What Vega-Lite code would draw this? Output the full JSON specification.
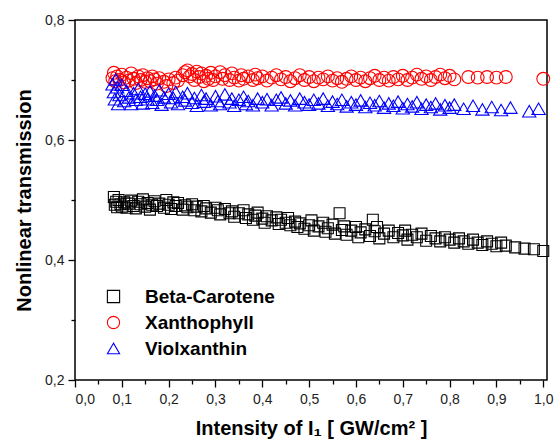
{
  "$schema": "https://vega.github.io/schema/vega-lite/v6.json",
  "width": 472,
  "height": 360,
  "autosize": "none",
  "padding": {"left": 75, "top": 20, "right": 8, "bottom": 65},
  "background": "white",
  "config": {
    "view": {"stroke": "black", "strokeWidth": 1.5},
    "font": "Liberation Sans",
    "legend": {
      "orient": "none", "legendX": 29, "legendY": 267,
      "labelFont": "Liberation Sans", "labelFontSize": 19, "labelFontWeight": "bold", "labelColor": "black",
      "symbolSize": 150, "symbolStrokeWidth": 1.1, "rowPadding": 6, "labelOffset": 22, "symbolFillColor": "transparent"
    }
  },
  "datasets": {
    "pts": [
      {"s":"Beta-Carotene","x":0.083,"y":0.505},{"s":"Beta-Carotene","x":0.085,"y":0.492},{"s":"Beta-Carotene","x":0.088,"y":0.497},{"s":"Beta-Carotene","x":0.09,"y":0.488},{"s":"Beta-Carotene","x":0.093,"y":0.5},{"s":"Beta-Carotene","x":0.097,"y":0.493},{"s":"Beta-Carotene","x":0.1,"y":0.489},{"s":"Beta-Carotene","x":0.105,"y":0.496},{"s":"Beta-Carotene","x":0.11,"y":0.487},{"s":"Beta-Carotene","x":0.115,"y":0.494},{"s":"Beta-Carotene","x":0.12,"y":0.499},{"s":"Beta-Carotene","x":0.125,"y":0.49},{"s":"Beta-Carotene","x":0.13,"y":0.486},{"s":"Beta-Carotene","x":0.135,"y":0.497},{"s":"Beta-Carotene","x":0.14,"y":0.493},{"s":"Beta-Carotene","x":0.145,"y":0.501},{"s":"Beta-Carotene","x":0.15,"y":0.489},{"s":"Beta-Carotene","x":0.155,"y":0.495},{"s":"Beta-Carotene","x":0.16,"y":0.484},{"s":"Beta-Carotene","x":0.165,"y":0.492},{"s":"Beta-Carotene","x":0.17,"y":0.498},{"s":"Beta-Carotene","x":0.175,"y":0.49},{"s":"Beta-Carotene","x":0.18,"y":0.494},{"s":"Beta-Carotene","x":0.19,"y":0.487},{"s":"Beta-Carotene","x":0.195,"y":0.5},{"s":"Beta-Carotene","x":0.2,"y":0.492},{"s":"Beta-Carotene","x":0.205,"y":0.485},{"s":"Beta-Carotene","x":0.21,"y":0.496},{"s":"Beta-Carotene","x":0.215,"y":0.49},{"s":"Beta-Carotene","x":0.22,"y":0.495},{"s":"Beta-Carotene","x":0.23,"y":0.484},{"s":"Beta-Carotene","x":0.235,"y":0.491},{"s":"Beta-Carotene","x":0.24,"y":0.488},{"s":"Beta-Carotene","x":0.25,"y":0.493},{"s":"Beta-Carotene","x":0.255,"y":0.483},{"s":"Beta-Carotene","x":0.26,"y":0.489},{"s":"Beta-Carotene","x":0.27,"y":0.481},{"s":"Beta-Carotene","x":0.275,"y":0.49},{"s":"Beta-Carotene","x":0.28,"y":0.486},{"s":"Beta-Carotene","x":0.29,"y":0.479},{"s":"Beta-Carotene","x":0.3,"y":0.487},{"s":"Beta-Carotene","x":0.305,"y":0.483},{"s":"Beta-Carotene","x":0.31,"y":0.476},{"s":"Beta-Carotene","x":0.32,"y":0.485},{"s":"Beta-Carotene","x":0.33,"y":0.478},{"s":"Beta-Carotene","x":0.335,"y":0.481},{"s":"Beta-Carotene","x":0.34,"y":0.472},{"s":"Beta-Carotene","x":0.35,"y":0.478},{"s":"Beta-Carotene","x":0.36,"y":0.483},{"s":"Beta-Carotene","x":0.365,"y":0.47},{"s":"Beta-Carotene","x":0.37,"y":0.476},{"s":"Beta-Carotene","x":0.38,"y":0.467},{"s":"Beta-Carotene","x":0.385,"y":0.474},{"s":"Beta-Carotene","x":0.39,"y":0.479},{"s":"Beta-Carotene","x":0.4,"y":0.469},{"s":"Beta-Carotene","x":0.405,"y":0.462},{"s":"Beta-Carotene","x":0.41,"y":0.473},{"s":"Beta-Carotene","x":0.42,"y":0.466},{"s":"Beta-Carotene","x":0.43,"y":0.471},{"s":"Beta-Carotene","x":0.435,"y":0.46},{"s":"Beta-Carotene","x":0.44,"y":0.467},{"s":"Beta-Carotene","x":0.45,"y":0.462},{"s":"Beta-Carotene","x":0.455,"y":0.47},{"s":"Beta-Carotene","x":0.46,"y":0.458},{"s":"Beta-Carotene","x":0.47,"y":0.464},{"s":"Beta-Carotene","x":0.475,"y":0.455},{"s":"Beta-Carotene","x":0.48,"y":0.461},{"s":"Beta-Carotene","x":0.49,"y":0.452},{"s":"Beta-Carotene","x":0.5,"y":0.458},{"s":"Beta-Carotene","x":0.505,"y":0.466},{"s":"Beta-Carotene","x":0.51,"y":0.449},{"s":"Beta-Carotene","x":0.52,"y":0.456},{"s":"Beta-Carotene","x":0.53,"y":0.462},{"s":"Beta-Carotene","x":0.535,"y":0.447},{"s":"Beta-Carotene","x":0.54,"y":0.453},{"s":"Beta-Carotene","x":0.55,"y":0.459},{"s":"Beta-Carotene","x":0.555,"y":0.444},{"s":"Beta-Carotene","x":0.565,"y":0.478},{"s":"Beta-Carotene","x":0.57,"y":0.45},{"s":"Beta-Carotene","x":0.575,"y":0.456},{"s":"Beta-Carotene","x":0.58,"y":0.442},{"s":"Beta-Carotene","x":0.59,"y":0.449},{"s":"Beta-Carotene","x":0.6,"y":0.455},{"s":"Beta-Carotene","x":0.605,"y":0.438},{"s":"Beta-Carotene","x":0.61,"y":0.446},{"s":"Beta-Carotene","x":0.62,"y":0.451},{"s":"Beta-Carotene","x":0.63,"y":0.44},{"s":"Beta-Carotene","x":0.636,"y":0.467},{"s":"Beta-Carotene","x":0.64,"y":0.448},{"s":"Beta-Carotene","x":0.645,"y":0.455},{"s":"Beta-Carotene","x":0.65,"y":0.436},{"s":"Beta-Carotene","x":0.66,"y":0.444},{"s":"Beta-Carotene","x":0.67,"y":0.449},{"s":"Beta-Carotene","x":0.68,"y":0.438},{"s":"Beta-Carotene","x":0.69,"y":0.445},{"s":"Beta-Carotene","x":0.7,"y":0.441},{"s":"Beta-Carotene","x":0.705,"y":0.449},{"s":"Beta-Carotene","x":0.71,"y":0.434},{"s":"Beta-Carotene","x":0.72,"y":0.442},{"s":"Beta-Carotene","x":0.73,"y":0.438},{"s":"Beta-Carotene","x":0.74,"y":0.444},{"s":"Beta-Carotene","x":0.75,"y":0.432},{"s":"Beta-Carotene","x":0.76,"y":0.44},{"s":"Beta-Carotene","x":0.77,"y":0.436},{"s":"Beta-Carotene","x":0.78,"y":0.431},{"s":"Beta-Carotene","x":0.79,"y":0.438},{"s":"Beta-Carotene","x":0.8,"y":0.434},{"s":"Beta-Carotene","x":0.81,"y":0.429},{"s":"Beta-Carotene","x":0.82,"y":0.436},{"s":"Beta-Carotene","x":0.83,"y":0.431},{"s":"Beta-Carotene","x":0.84,"y":0.427},{"s":"Beta-Carotene","x":0.85,"y":0.434},{"s":"Beta-Carotene","x":0.86,"y":0.429},{"s":"Beta-Carotene","x":0.87,"y":0.425},{"s":"Beta-Carotene","x":0.88,"y":0.431},{"s":"Beta-Carotene","x":0.89,"y":0.427},{"s":"Beta-Carotene","x":0.9,"y":0.423},{"s":"Beta-Carotene","x":0.91,"y":0.429},{"s":"Beta-Carotene","x":0.92,"y":0.424},{"s":"Beta-Carotene","x":0.94,"y":0.421},{"s":"Beta-Carotene","x":0.96,"y":0.419},{"s":"Beta-Carotene","x":0.98,"y":0.418},{"s":"Beta-Carotene","x":1.0,"y":0.415},
      {"s":"Xanthophyll","x":0.08,"y":0.703},{"s":"Xanthophyll","x":0.083,"y":0.712},{"s":"Xanthophyll","x":0.086,"y":0.698},{"s":"Xanthophyll","x":0.09,"y":0.706},{"s":"Xanthophyll","x":0.095,"y":0.7},{"s":"Xanthophyll","x":0.1,"y":0.709},{"s":"Xanthophyll","x":0.105,"y":0.696},{"s":"Xanthophyll","x":0.11,"y":0.704},{"s":"Xanthophyll","x":0.115,"y":0.699},{"s":"Xanthophyll","x":0.12,"y":0.711},{"s":"Xanthophyll","x":0.125,"y":0.702},{"s":"Xanthophyll","x":0.13,"y":0.695},{"s":"Xanthophyll","x":0.135,"y":0.706},{"s":"Xanthophyll","x":0.14,"y":0.7},{"s":"Xanthophyll","x":0.145,"y":0.708},{"s":"Xanthophyll","x":0.15,"y":0.697},{"s":"Xanthophyll","x":0.155,"y":0.703},{"s":"Xanthophyll","x":0.16,"y":0.698},{"s":"Xanthophyll","x":0.165,"y":0.706},{"s":"Xanthophyll","x":0.17,"y":0.701},{"s":"Xanthophyll","x":0.175,"y":0.694},{"s":"Xanthophyll","x":0.18,"y":0.703},{"s":"Xanthophyll","x":0.19,"y":0.697},{"s":"Xanthophyll","x":0.195,"y":0.69},{"s":"Xanthophyll","x":0.2,"y":0.701},{"s":"Xanthophyll","x":0.21,"y":0.695},{"s":"Xanthophyll","x":0.215,"y":0.704},{"s":"Xanthophyll","x":0.22,"y":0.699},{"s":"Xanthophyll","x":0.23,"y":0.708},{"s":"Xanthophyll","x":0.235,"y":0.713},{"s":"Xanthophyll","x":0.24,"y":0.716},{"s":"Xanthophyll","x":0.245,"y":0.706},{"s":"Xanthophyll","x":0.25,"y":0.71},{"s":"Xanthophyll","x":0.255,"y":0.7},{"s":"Xanthophyll","x":0.26,"y":0.714},{"s":"Xanthophyll","x":0.265,"y":0.705},{"s":"Xanthophyll","x":0.27,"y":0.711},{"s":"Xanthophyll","x":0.275,"y":0.698},{"s":"Xanthophyll","x":0.28,"y":0.707},{"s":"Xanthophyll","x":0.285,"y":0.702},{"s":"Xanthophyll","x":0.29,"y":0.712},{"s":"Xanthophyll","x":0.295,"y":0.7},{"s":"Xanthophyll","x":0.3,"y":0.706},{"s":"Xanthophyll","x":0.31,"y":0.713},{"s":"Xanthophyll","x":0.315,"y":0.702},{"s":"Xanthophyll","x":0.32,"y":0.708},{"s":"Xanthophyll","x":0.33,"y":0.7},{"s":"Xanthophyll","x":0.335,"y":0.711},{"s":"Xanthophyll","x":0.34,"y":0.704},{"s":"Xanthophyll","x":0.35,"y":0.699},{"s":"Xanthophyll","x":0.355,"y":0.708},{"s":"Xanthophyll","x":0.36,"y":0.702},{"s":"Xanthophyll","x":0.37,"y":0.706},{"s":"Xanthophyll","x":0.38,"y":0.7},{"s":"Xanthophyll","x":0.385,"y":0.709},{"s":"Xanthophyll","x":0.39,"y":0.703},{"s":"Xanthophyll","x":0.4,"y":0.706},{"s":"Xanthophyll","x":0.41,"y":0.699},{"s":"Xanthophyll","x":0.42,"y":0.704},{"s":"Xanthophyll","x":0.43,"y":0.708},{"s":"Xanthophyll","x":0.44,"y":0.701},{"s":"Xanthophyll","x":0.45,"y":0.705},{"s":"Xanthophyll","x":0.46,"y":0.698},{"s":"Xanthophyll","x":0.47,"y":0.703},{"s":"Xanthophyll","x":0.48,"y":0.708},{"s":"Xanthophyll","x":0.49,"y":0.7},{"s":"Xanthophyll","x":0.5,"y":0.705},{"s":"Xanthophyll","x":0.51,"y":0.698},{"s":"Xanthophyll","x":0.52,"y":0.704},{"s":"Xanthophyll","x":0.53,"y":0.701},{"s":"Xanthophyll","x":0.54,"y":0.706},{"s":"Xanthophyll","x":0.55,"y":0.699},{"s":"Xanthophyll","x":0.56,"y":0.703},{"s":"Xanthophyll","x":0.57,"y":0.697},{"s":"Xanthophyll","x":0.58,"y":0.702},{"s":"Xanthophyll","x":0.59,"y":0.706},{"s":"Xanthophyll","x":0.6,"y":0.7},{"s":"Xanthophyll","x":0.61,"y":0.704},{"s":"Xanthophyll","x":0.62,"y":0.698},{"s":"Xanthophyll","x":0.63,"y":0.703},{"s":"Xanthophyll","x":0.64,"y":0.707},{"s":"Xanthophyll","x":0.65,"y":0.7},{"s":"Xanthophyll","x":0.66,"y":0.704},{"s":"Xanthophyll","x":0.67,"y":0.699},{"s":"Xanthophyll","x":0.68,"y":0.705},{"s":"Xanthophyll","x":0.69,"y":0.701},{"s":"Xanthophyll","x":0.7,"y":0.707},{"s":"Xanthophyll","x":0.71,"y":0.7},{"s":"Xanthophyll","x":0.72,"y":0.704},{"s":"Xanthophyll","x":0.73,"y":0.709},{"s":"Xanthophyll","x":0.74,"y":0.702},{"s":"Xanthophyll","x":0.75,"y":0.706},{"s":"Xanthophyll","x":0.76,"y":0.7},{"s":"Xanthophyll","x":0.77,"y":0.705},{"s":"Xanthophyll","x":0.78,"y":0.709},{"s":"Xanthophyll","x":0.79,"y":0.703},{"s":"Xanthophyll","x":0.8,"y":0.707},{"s":"Xanthophyll","x":0.81,"y":0.701},{"s":"Xanthophyll","x":0.84,"y":0.705},{"s":"Xanthophyll","x":0.86,"y":0.704},{"s":"Xanthophyll","x":0.88,"y":0.705},{"s":"Xanthophyll","x":0.9,"y":0.704},{"s":"Xanthophyll","x":0.92,"y":0.705},{"s":"Xanthophyll","x":1.0,"y":0.702},
      {"s":"Violxanthin","x":0.08,"y":0.693},{"s":"Violxanthin","x":0.083,"y":0.68},{"s":"Violxanthin","x":0.085,"y":0.668},{"s":"Violxanthin","x":0.087,"y":0.701},{"s":"Violxanthin","x":0.09,"y":0.688},{"s":"Violxanthin","x":0.092,"y":0.66},{"s":"Violxanthin","x":0.095,"y":0.675},{"s":"Violxanthin","x":0.1,"y":0.692},{"s":"Violxanthin","x":0.105,"y":0.665},{"s":"Violxanthin","x":0.11,"y":0.682},{"s":"Violxanthin","x":0.115,"y":0.671},{"s":"Violxanthin","x":0.12,"y":0.66},{"s":"Violxanthin","x":0.125,"y":0.678},{"s":"Violxanthin","x":0.13,"y":0.667},{"s":"Violxanthin","x":0.135,"y":0.685},{"s":"Violxanthin","x":0.14,"y":0.672},{"s":"Violxanthin","x":0.145,"y":0.661},{"s":"Violxanthin","x":0.15,"y":0.677},{"s":"Violxanthin","x":0.155,"y":0.668},{"s":"Violxanthin","x":0.16,"y":0.681},{"s":"Violxanthin","x":0.165,"y":0.662},{"s":"Violxanthin","x":0.17,"y":0.674},{"s":"Violxanthin","x":0.175,"y":0.667},{"s":"Violxanthin","x":0.18,"y":0.683},{"s":"Violxanthin","x":0.185,"y":0.659},{"s":"Violxanthin","x":0.19,"y":0.671},{"s":"Violxanthin","x":0.2,"y":0.677},{"s":"Violxanthin","x":0.205,"y":0.663},{"s":"Violxanthin","x":0.21,"y":0.67},{"s":"Violxanthin","x":0.215,"y":0.68},{"s":"Violxanthin","x":0.22,"y":0.66},{"s":"Violxanthin","x":0.23,"y":0.672},{"s":"Violxanthin","x":0.235,"y":0.666},{"s":"Violxanthin","x":0.24,"y":0.678},{"s":"Violxanthin","x":0.25,"y":0.662},{"s":"Violxanthin","x":0.255,"y":0.67},{"s":"Violxanthin","x":0.26,"y":0.657},{"s":"Violxanthin","x":0.27,"y":0.675},{"s":"Violxanthin","x":0.275,"y":0.664},{"s":"Violxanthin","x":0.28,"y":0.669},{"s":"Violxanthin","x":0.29,"y":0.658},{"s":"Violxanthin","x":0.3,"y":0.673},{"s":"Violxanthin","x":0.305,"y":0.665},{"s":"Violxanthin","x":0.31,"y":0.66},{"s":"Violxanthin","x":0.32,"y":0.676},{"s":"Violxanthin","x":0.33,"y":0.663},{"s":"Violxanthin","x":0.335,"y":0.669},{"s":"Violxanthin","x":0.34,"y":0.657},{"s":"Violxanthin","x":0.35,"y":0.667},{"s":"Violxanthin","x":0.36,"y":0.672},{"s":"Violxanthin","x":0.365,"y":0.66},{"s":"Violxanthin","x":0.37,"y":0.665},{"s":"Violxanthin","x":0.38,"y":0.658},{"s":"Violxanthin","x":0.39,"y":0.669},{"s":"Violxanthin","x":0.4,"y":0.663},{"s":"Violxanthin","x":0.41,"y":0.668},{"s":"Violxanthin","x":0.42,"y":0.658},{"s":"Violxanthin","x":0.43,"y":0.667},{"s":"Violxanthin","x":0.44,"y":0.671},{"s":"Violxanthin","x":0.45,"y":0.661},{"s":"Violxanthin","x":0.46,"y":0.666},{"s":"Violxanthin","x":0.47,"y":0.658},{"s":"Violxanthin","x":0.48,"y":0.669},{"s":"Violxanthin","x":0.49,"y":0.663},{"s":"Violxanthin","x":0.5,"y":0.659},{"s":"Violxanthin","x":0.51,"y":0.667},{"s":"Violxanthin","x":0.52,"y":0.661},{"s":"Violxanthin","x":0.53,"y":0.669},{"s":"Violxanthin","x":0.54,"y":0.657},{"s":"Violxanthin","x":0.55,"y":0.664},{"s":"Violxanthin","x":0.56,"y":0.66},{"s":"Violxanthin","x":0.57,"y":0.667},{"s":"Violxanthin","x":0.58,"y":0.656},{"s":"Violxanthin","x":0.59,"y":0.663},{"s":"Violxanthin","x":0.6,"y":0.659},{"s":"Violxanthin","x":0.61,"y":0.666},{"s":"Violxanthin","x":0.62,"y":0.655},{"s":"Violxanthin","x":0.63,"y":0.662},{"s":"Violxanthin","x":0.64,"y":0.658},{"s":"Violxanthin","x":0.65,"y":0.665},{"s":"Violxanthin","x":0.66,"y":0.654},{"s":"Violxanthin","x":0.67,"y":0.661},{"s":"Violxanthin","x":0.68,"y":0.657},{"s":"Violxanthin","x":0.69,"y":0.664},{"s":"Violxanthin","x":0.7,"y":0.653},{"s":"Violxanthin","x":0.71,"y":0.66},{"s":"Violxanthin","x":0.72,"y":0.656},{"s":"Violxanthin","x":0.73,"y":0.663},{"s":"Violxanthin","x":0.74,"y":0.652},{"s":"Violxanthin","x":0.75,"y":0.659},{"s":"Violxanthin","x":0.76,"y":0.655},{"s":"Violxanthin","x":0.77,"y":0.661},{"s":"Violxanthin","x":0.78,"y":0.651},{"s":"Violxanthin","x":0.79,"y":0.658},{"s":"Violxanthin","x":0.8,"y":0.654},{"s":"Violxanthin","x":0.81,"y":0.659},{"s":"Violxanthin","x":0.83,"y":0.652},{"s":"Violxanthin","x":0.85,"y":0.657},{"s":"Violxanthin","x":0.87,"y":0.651},{"s":"Violxanthin","x":0.89,"y":0.655},{"s":"Violxanthin","x":0.91,"y":0.65},{"s":"Violxanthin","x":0.93,"y":0.654},{"s":"Violxanthin","x":0.97,"y":0.648},{"s":"Violxanthin","x":0.99,"y":0.652}
    ]
  },
  "data": {"name": "pts"},
  "encoding": {
    "x": {
      "field": "x", "type": "quantitative",
      "scale": {"domain": [0, 1.008], "nice": false, "zero": false},
      "axis": {
        "values": [0,0.05,0.1,0.15,0.2,0.25,0.3,0.35,0.4,0.45,0.5,0.55,0.6,0.65,0.7,0.75,0.8,0.85,0.9,0.95,1.0],
        "labelExpr": "round(datum.value*100)%10==0 ? replace(format(datum.value,'.1f'),'.',',') : ''",
        "tickSize": {"condition": {"test": "round(datum.value*100)%10==0", "value": 7}, "value": 4},
        "grid": false, "domain": false,
        "tickColor": "black", "tickWidth": 1.3,
        "labelFont": "Liberation Sans", "labelFontSize": 14, "labelColor": "#222222", "labelPadding": 5,
        "title": "Intensity of I₁ [ GW/cm² ]",
        "titleFont": "Liberation Sans", "titleFontSize": 20, "titleFontWeight": "bold", "titleColor": "black", "titlePadding": 12
      }
    },
    "y": {
      "field": "y", "type": "quantitative",
      "scale": {"domain": [0.2, 0.8], "nice": false, "zero": false},
      "axis": {
        "values": [0.2,0.3,0.4,0.5,0.6,0.7,0.8],
        "labelExpr": "round(datum.value*10)%2==0 ? replace(format(datum.value,'.1f'),'.',',') : ''",
        "tickSize": {"condition": {"test": "round(datum.value*10)%2==0", "value": 7}, "value": 4},
        "grid": false, "domain": false,
        "tickColor": "black", "tickWidth": 1.3,
        "labelFont": "Liberation Sans", "labelFontSize": 14, "labelColor": "#222222", "labelPadding": 4,
        "title": "Nonlinear transmission",
        "titleFont": "Liberation Sans", "titleFontSize": 20, "titleFontWeight": "bold", "titleColor": "black", "titlePadding": 10
      }
    },
    "shape": {
      "field": "s", "type": "nominal",
      "scale": {"domain": ["Beta-Carotene","Xanthophyll","Violxanthin"], "range": ["square","circle","triangle-up"]},
      "legend": {"title": null}
    },
    "stroke": {
      "field": "s", "type": "nominal",
      "scale": {"domain": ["Beta-Carotene","Xanthophyll","Violxanthin"], "range": ["black","#ff0000","#0000ff"]},
      "legend": {"title": null}
    }
  },
  "layer": [
    {
      "transform": [{"filter": "datum.s == 'Beta-Carotene'"}],
      "mark": {"type": "point", "filled": false, "size": 120, "strokeWidth": 1.1, "opacity": 1}
    },
    {
      "transform": [{"filter": "datum.s == 'Xanthophyll'"}],
      "mark": {"type": "point", "filled": false, "size": 165, "strokeWidth": 1.1, "opacity": 1}
    },
    {
      "transform": [{"filter": "datum.s == 'Violxanthin'"}],
      "mark": {"type": "point", "filled": false, "size": 175, "strokeWidth": 1.1, "opacity": 1}
    }
  ]
}
